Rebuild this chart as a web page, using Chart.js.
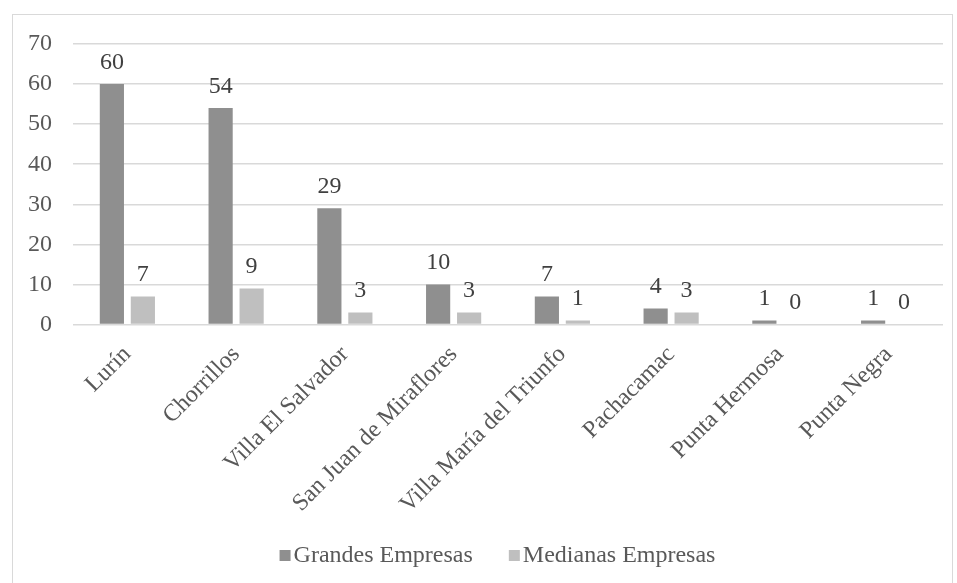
<!DOCTYPE html>
<html>
<head>
<meta charset="utf-8">
<script src="https://cdn.jsdelivr.net/npm/chart.js@4"></script>
<style>
  body { margin: 0; background: #fff; }
  #box { position: absolute; left: 12px; top: 14px; width: 939px; height: 580px; border: 1px solid #d9d9d9; }
  #wrap { position: absolute; left: 0; top: 0; width: 939px; height: 560px; }
</style>
</head>
<body>
<div id="box"><div id="wrap"><canvas id="barchart"></canvas></div></div>
<script>
var distritos = ['Lurín', 'Chorrillos', 'Villa El Salvador', 'San Juan de Miraflores', 'Villa María del Triunfo', 'Pachacamac', 'Punta Hermosa', 'Punta Negra'];
var grandes = [60, 54, 29, 10, 7, 4, 1, 1];
var medianas = [7, 9, 3, 3, 1, 3, 0, 0];
var yTicks = [0, 10, 20, 30, 40, 50, 60, 70];

var fuente = 'Liberation Serif, Times New Roman, serif';
var colores = ['#8f8f8f', '#bfbfbf'];

// etiquetas de valor encima de cada barra
var etiquetas = {
  id: 'etiquetas',
  afterDatasetsDraw: function(chart) {
    var ctx = chart.ctx;
    ctx.save();
    ctx.font = '24px ' + fuente;
    ctx.fillStyle = '#404040';
    ctx.textAlign = 'center';
    ctx.textBaseline = 'alphabetic';
    chart.data.datasets.forEach(function(ds, i) {
      chart.getDatasetMeta(i).data.forEach(function(bar, j) {
        ctx.fillText(ds.data[j], bar.x, bar.y - 15);
      });
    });
    ctx.restore();
  }
};

// leyenda abajo, cuadro pegado al texto como en Excel
var leyenda = {
  id: 'leyenda',
  afterDraw: function(chart) {
    var ctx = chart.ctx;
    var y = chart.height - 20;
    ctx.save();
    ctx.font = '24px ' + fuente;
    ctx.textBaseline = 'middle';
    var items = chart.data.datasets.map(function(ds) {
      return { texto: ds.label, color: ds.backgroundColor, w: 11 + 3 + ctx.measureText(ds.label).width };
    });
    var gap = 36;
    var total = items.reduce(function(s, it) { return s + it.w; }, 0) + gap * (items.length - 1);
    var x = chart.width / 2 + 15 - total / 2;
    items.forEach(function(it) {
      ctx.fillStyle = it.color;
      ctx.fillRect(x, y - 5, 11, 11);
      ctx.fillStyle = '#595959';
      ctx.fillText(it.texto, x + 14, y + 1);
      x += it.w + gap;
    });
    ctx.restore();
  }
};

var chartdata = {
  labels: distritos,
  datasets: [
    {
      label: 'Grandes Empresas',
      backgroundColor: colores[0],
      data: grandes,
      categoryPercentage: 0.57,
      barPercentage: 0.78
    },
    {
      label: 'Medianas Empresas',
      backgroundColor: colores[1],
      data: medianas,
      categoryPercentage: 0.57,
      barPercentage: 0.78
    }
  ]
};

var ctx = document.getElementById('barchart');
var barGraph = new Chart(ctx, {
  type: 'bar',
  data: chartdata,
  plugins: [etiquetas, leyenda],
  options: {
    responsive: true,
    maintainAspectRatio: false,
    animation: false,
    layout: { padding: { left: 15, right: 9, top: 29, bottom: 48 } },
    plugins: {
      tooltip: { enabled: false },
      legend: { display: false }
    },
    scales: {
      x: {
        grid: { display: false },
        border: { display: false },
        afterFit: function(axis) {
          axis.paddingLeft = 0;
          axis.paddingRight = 0;
          axis.paddingTop = 0;
          axis.paddingBottom = 0;
        },
        ticks: {
          font: { family: fuente, size: 24 },
          color: '#595959',
          minRotation: 45,
          maxRotation: 45,
          padding: 8
        }
      },
      y: {
        min: 0,
        max: 70,
        afterBuildTicks: function(axis) {
          axis.ticks = yTicks.map(function(v) { return { value: v }; });
        },
        afterFit: function(axis) {
          axis.width = 45;
          axis.paddingTop = 0;
          axis.paddingBottom = 0;
        },
        grid: { color: '#d9d9d9', drawTicks: false, lineWidth: 1.5 },
        border: { display: false },
        ticks: {
          font: { family: fuente, size: 24 },
          color: '#595959',
          padding: 21
        }
      }
    }
  }
});
</script>
</body>
</html>
